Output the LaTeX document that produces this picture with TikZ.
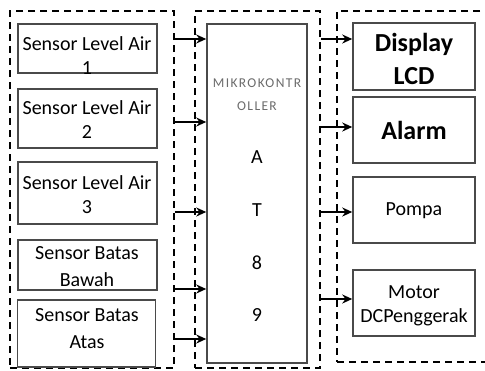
\documentclass[tikz,border=0pt]{standalone}
\usepackage{fontspec}
\setmainfont{Carlito}
\newfontfamily\mcufont[LetterSpace=10]{Carlito}
\usetikzlibrary{arrows.meta, positioning}
\definecolor{boxGrey}{HTML}{4A4A4A}
\definecolor{txtGrey}{HTML}{6B6B6B}
\tikzset{
  group/.style   = {draw=black, dash pattern=on 7pt off 5pt, line width=1.6pt, inner sep=0pt},
  block/.style   = {draw=boxGrey, line width=1.5pt, inner sep=0pt},
  lbl/.style     = {font=\fontsize{20}{24}\selectfont, align=center, inner sep=0pt},
  wlbl/.style    = {font=\fontsize{20}{27}\selectfont, align=center, inner sep=0pt},
  blbl/.style    = {font=\fontsize{26}{33}\selectfont\bfseries, align=center, inner sep=0pt},
  mlbl/.style    = {font=\mcufont\fontsize{13.5}{23}\selectfont, txtGrey, align=center, inner sep=0pt},
  sig/.style     = {-{Stealth[length=10pt, width=9pt]}, line width=1.6pt},
}
\begin{document}
\begin{tikzpicture}[x=1pt, y=-1pt]
  \useasboundingbox (0,0) rectangle (485,370);
  % dashed groups
  \node[group, minimum width=164pt, minimum height=357pt] (gIn)  at (92,189.5) {};
  \node[group, minimum width=125pt, minimum height=357pt] (gMcu) at (257.5,189.5) {};
  \node[group, minimum width=160pt, minimum height=351pt] (gOut) at (417,186.5) {};
  % sensors
  \node[block, minimum width=139pt, minimum height=49pt] (s1) at (87.5,48.5) {};
  \node[block, minimum width=139pt, minimum height=59pt] (s2) at (87.5,118.5) {};
  \node[block, minimum width=139pt, minimum height=62pt] (s3) at (87.5,193) {};
  \node[block, minimum width=139pt, minimum height=50pt] (s4) at (87.5,265) {};
  \node[block, minimum width=138pt, minimum height=67pt] (s5) at (86.5,333.5) {};
  \node[lbl]  (s1t) at (87,56)    {Sensor Level Air\\1};
  \node[lbl]  (s2t) at (87,120)   {Sensor Level Air\\2};
  \node[lbl]  (s3t) at (87,194.5) {Sensor Level Air\\3};
  \node[wlbl] (s4t) at (87,267)   {Sensor Batas\\Bawah};
  \node[wlbl] (s5t) at (87,328.5) {Sensor Batas\\Atas};
  % microcontroller
  \node[block, minimum width=100pt, minimum height=339pt] (mcu) at (257,193.5) {};
  \node[mlbl] (mcut) at (257,94.5) {MIKROKONTR\\OLLER};
  \foreach \c/\y [count=\i] in {A/157,T/210,8/263,9/315}
    \node[lbl] (mc\i) at (257,\y) {\c};
  % outputs
  \node[block, minimum width=122pt, minimum height=67pt] (lcd)   at (414,56.5) {};
  \node[block, minimum width=122pt, minimum height=66pt] (alarm) at (414,130) {};
  \node[block, minimum width=122pt, minimum height=66pt] (pompa) at (414,210) {};
  \node[block, minimum width=122pt, minimum height=66pt] (motor) at (414,303) {};
  \node[blbl] (lcdt)   at (414,58.5)  {Display\\LCD};
  \node[blbl] (alarmt) at (414,130)   {Alarm};
  \node[lbl]  (pompat) at (414,211)   {Pompa};
  \node[lbl]  (motort) at (414,305.5) {Motor\\DCPenggerak};
  % signals in
  \foreach \y [count=\i] in {39,122,212,289,339} {
    \coordinate (in\i) at (gIn.east |- 0,\y);
    \draw[sig] (in\i) -- (in\i -| mcu.west);
  }
  % signals out
  \foreach \y/\n in {39/lcd,127/alarm,212/pompa,299/motor} {
    \coordinate (out\n) at (gMcu.east |- 0,\y);
    \draw[sig] (out\n) -- (out\n -| \n.west);
  }
\end{tikzpicture}
\end{document}
